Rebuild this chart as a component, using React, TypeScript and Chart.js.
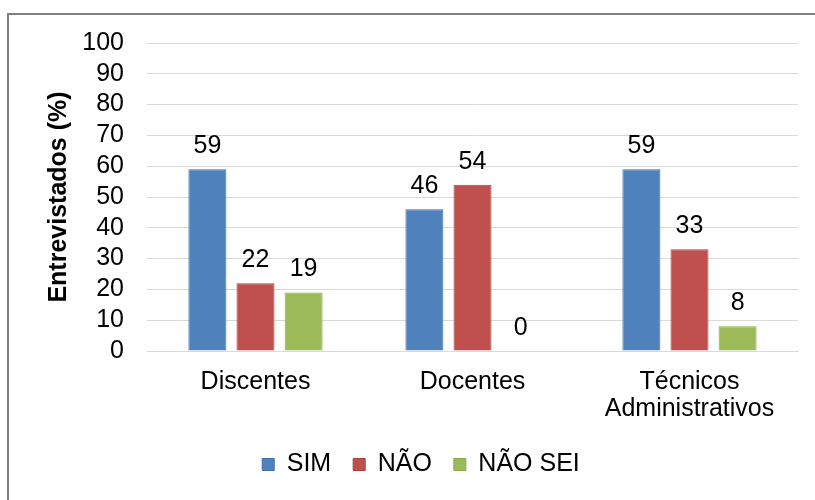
import React, { useEffect, useRef } from "react";
import { Chart, registerables } from "chart.js";

Chart.register(...registerables);

const categories: (string | string[])[] = ["Discentes", "Docentes", ["Técnicos", "Administrativos"]];
const simValues = [59, 46, 59];
const naoValues = [22, 54, 33];
const naoSeiValues = [19, 0, 8];
const seriesNames = ["SIM", "NÃO", "NÃO SEI"];
const yTicks = [0, 10, 20, 30, 40, 50, 60, 70, 80, 90, 100];

const FONT = "'Liberation Sans', Arial, sans-serif";
const FS = 25;

const valueLabels = {
  id: "valueLabels",
  afterDatasetsDraw(chart: any) {
    const ctx = chart.ctx;
    ctx.save();
    ctx.font = `${FS}px ${FONT}`;
    ctx.fillStyle = "#000000";
    ctx.textAlign = "center";
    ctx.textBaseline = "alphabetic";
    chart.data.datasets.forEach((ds: any, di: number) => {
      const meta = chart.getDatasetMeta(di);
      meta.data.forEach((el: any, i: number) => {
        ctx.fillText(String(ds.data[i]), el.x, el.y - 16);
      });
    });
    ctx.restore();
  },
};

export default function App() {
  const ref = useRef<HTMLCanvasElement | null>(null);

  useEffect(() => {
    if (!ref.current) return;
    const chart = new Chart(ref.current, {
      type: "bar",
      data: {
        labels: categories,
        datasets: [
          { label: seriesNames[0], data: simValues, backgroundColor: "#4f81bd", borderColor: "#3f6fa8", borderWidth: 1 },
          { label: seriesNames[1], data: naoValues, backgroundColor: "#c0504d", borderColor: "#a9403d", borderWidth: 1 },
          { label: seriesNames[2], data: naoSeiValues, backgroundColor: "#9bbb59", borderColor: "#88a84a", borderWidth: 1 },
        ],
      },
      options: {
        animation: false,
        responsive: false,
        maintainAspectRatio: false,
        layout: { padding: { left: 44, right: 17, top: 43, bottom: 13 } },
        datasets: { bar: { barPercentage: 0.79, categoryPercentage: 0.665 } },
        plugins: {
          tooltip: { enabled: false },
          legend: {
            position: "bottom",
            labels: {
              font: { family: FONT, size: FS },
              color: "#000000",
              boxWidth: 12,
              boxHeight: 12,
              padding: 22,
            },
          },
        },
        scales: {
          x: {
            grid: { display: false, drawTicks: false },
            border: { display: true, color: "#d9d9d9", width: 1 },
            ticks: {
              font: { family: FONT, size: FS, lineHeight: 1.1 },
              color: "#000000",
              padding: 17,
              maxRotation: 0,
              minRotation: 0,
              autoSkip: false,
            },
            afterFit: (s: any) => {
              s.height = 79;
            },
          },
          y: {
            min: 0,
            max: 100,
            afterBuildTicks: (s: any) => {
              s.ticks = yTicks.map((v) => ({ value: v }));
            },
            grid: { color: "#d9d9d9", lineWidth: 1, drawTicks: false },
            border: { display: false },
            ticks: {
              font: { family: FONT, size: FS },
              color: "#000000",
              padding: 23,
              autoSkip: false,
            },
            title: {
              display: true,
              text: "Entrevistados (%)",
              font: { family: FONT, size: 25, weight: "bold", lineHeight: 1.2 },
              color: "#000000",
              padding: { top: 0, bottom: 0 },
            },
            afterFit: (s: any) => {
              s.width = 103;
            },
          },
        },
      },
      plugins: [valueLabels],
    });
    return () => chart.destroy();
  }, []);

  return (
    <div style={{ position: "fixed", left: 0, top: 0, width: 815, height: 500, background: "#ffffff", overflow: "hidden" }}>
      <div
        style={{
          position: "absolute",
          left: 7,
          top: 13,
          width: 900,
          height: 600,
          borderTop: "2px solid #7f7f7f",
          borderLeft: "2px solid #7f7f7f",
          boxSizing: "border-box",
        }}
      />
      <canvas ref={ref} width={815} height={500} style={{ position: "absolute", left: 0, top: 0, width: 815, height: 500 }} />
    </div>
  );
}
